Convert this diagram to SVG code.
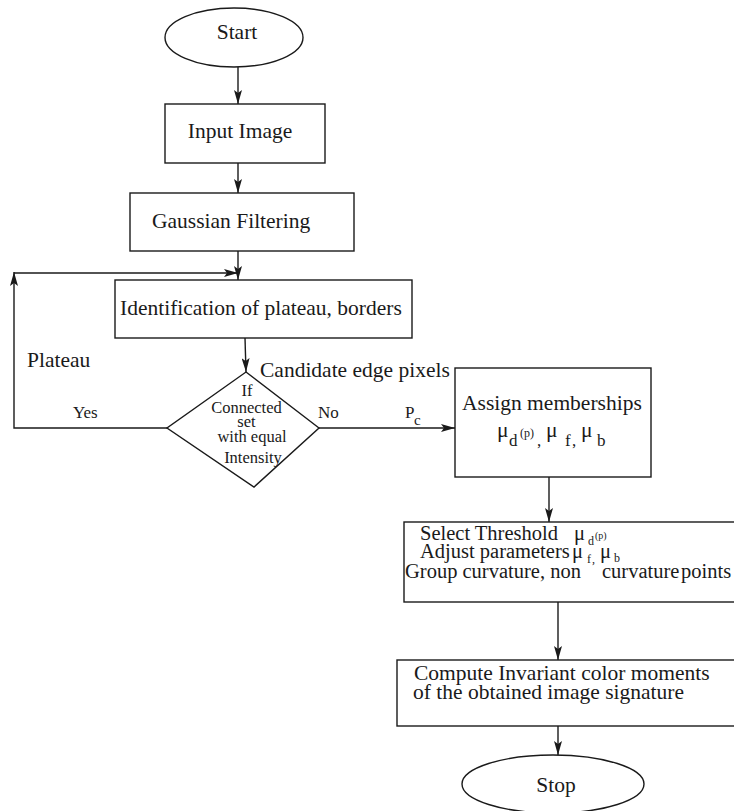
<svg xmlns="http://www.w3.org/2000/svg" width="734" height="811" viewBox="0 0 734 811">
<style>
  .shape { fill: none; stroke: #1a1a1a; stroke-width: 1.4; }
  .conn { fill: none; stroke: #1a1a1a; stroke-width: 1.4; }
  text { font-family: "Liberation Serif", "Times New Roman", serif; fill: #1a1a1a; }
  .t { font-size: 21.5px; }
  .m { font-size: 20.5px; }
  .s { font-size: 17px; }
  .d { font-size: 16.5px; }
  .sub { font-size: 15px; }
  .ss { font-size: 12px; }
  .sup { font-size: 12px; }
  .sup2 { font-size: 10px; }
</style>
<defs>
  <marker id="arr" viewBox="0 0 14 8" refX="14" refY="4" markerWidth="14" markerHeight="8" markerUnits="userSpaceOnUse" orient="auto">
    <path d="M0,0 L14,4 L0,8 L3,4 Z" fill="#1a1a1a"/>
  </marker>
</defs>
<rect width="734" height="811" fill="#ffffff"/>

<g id="connectors">
  <line class="conn" x1="238" y1="67" x2="238" y2="104" marker-end="url(#arr)"/>
  <line class="conn" x1="238" y1="163" x2="238" y2="193" marker-end="url(#arr)"/>
  <line class="conn" x1="238" y1="251" x2="238" y2="280" marker-end="url(#arr)"/>
  <polyline class="conn" points="167,428 14,428 14,272" marker-end="url(#arr)"/>
  <line class="conn" x1="14" y1="273" x2="238" y2="273" marker-end="url(#arr)"/>
  <line class="conn" x1="245" y1="338" x2="246" y2="372" marker-end="url(#arr)"/>
  <line class="conn" x1="319" y1="428" x2="455" y2="428" marker-end="url(#arr)"/>
  <line class="conn" x1="549" y1="477" x2="549" y2="522" marker-end="url(#arr)"/>
  <line class="conn" x1="558" y1="602" x2="558" y2="660" marker-end="url(#arr)"/>
  <line class="conn" x1="558" y1="726" x2="558" y2="755" marker-end="url(#arr)"/>
  <text class="t" x="27" y="367">Plateau</text>
  <text class="s" x="73" y="418">Yes</text>
  <text class="s" x="318" y="418">No</text>
  <text class="s" x="405" y="418">P</text>
  <text class="sub" x="414" y="425">c</text>
  <text class="t" x="260" y="377">Candidate edge pixels</text>
</g>

<g id="start">
  <ellipse class="shape" cx="234" cy="37.5" rx="69" ry="29.5"/>
  <text class="t" x="237" y="39" text-anchor="middle">Start</text>
</g>

<g id="input-image">
  <rect class="shape" x="165" y="104" width="160" height="59"/>
  <text class="t" x="240" y="138" text-anchor="middle">Input Image</text>
</g>

<g id="gaussian-filtering">
  <rect class="shape" x="130" y="193" width="224" height="58"/>
  <text class="t" x="152" y="228">Gaussian Filtering</text>
</g>

<g id="identification">
  <rect class="shape" x="115" y="280" width="297" height="58"/>
  <text class="t" x="120" y="315">Identification of plateau, borders</text>
</g>

<g id="decision">
  <polygon class="shape" points="246,372 319,428 254,487 167,428"/>
  <text class="d" x="247" y="396" text-anchor="middle">If</text>
  <text class="d" x="246.5" y="413" text-anchor="middle">Connected</text>
  <text class="d" x="246.5" y="427" text-anchor="middle">set</text>
  <text class="d" x="252" y="442" text-anchor="middle">with equal</text>
  <text class="d" x="253" y="463" text-anchor="middle">Intensity</text>
</g>

<g id="assign-memberships">
  <rect class="shape" x="455" y="368" width="196" height="109"/>
  <text class="t" x="462" y="410">Assign memberships</text>
  <text class="t" x="497" y="437">μ</text>
  <text class="s" x="509" y="446">d</text>
  <text class="sup" x="520" y="437">(p)</text>
  <text class="s" x="537" y="446">,</text>
  <text class="t" x="546" y="437">μ</text>
  <text class="s" x="565" y="446">f</text>
  <text class="s" x="572" y="446">,</text>
  <text class="t" x="581" y="437">μ</text>
  <text class="s" x="597" y="446">b</text>
</g>

<g id="select-threshold">
  <rect class="shape" x="404" y="522" width="340" height="80"/>
  <text class="m" x="420" y="540">Select Threshold</text>
  <text class="m" x="574" y="540">μ</text>
  <text class="ss" x="588" y="545">d</text>
  <text class="sup2" x="595" y="539">(p)</text>
  <text class="m" x="420" y="558">Adjust parameters</text>
  <text class="m" x="572" y="558">μ</text>
  <text class="ss" x="587" y="563">f</text>
  <text class="ss" x="592" y="563">,</text>
  <text class="m" x="600" y="558">μ</text>
  <text class="ss" x="614" y="562">b</text>
  <text class="m" x="405" y="578">Group curvature, non</text>
  <text class="m" x="602" y="578">curvature</text>
  <text class="m" x="681" y="578">points</text>
</g>

<g id="compute-moments">
  <rect class="shape" x="397" y="660" width="347" height="66"/>
  <text class="t" x="414" y="680">Compute Invariant color moments</text>
  <text class="t" x="413" y="699">of the obtained image signature</text>
</g>

<g id="stop">
  <ellipse class="shape" cx="553" cy="784" rx="91" ry="29"/>
  <text class="t" x="556" y="792" text-anchor="middle">Stop</text>
</g>
</svg>
